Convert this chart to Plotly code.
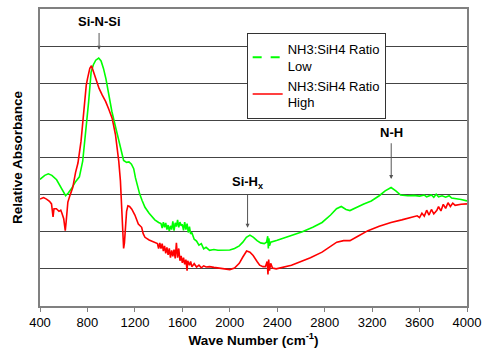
import plotly.graph_objects as go

low_wn = [400, 440, 470, 500, 540, 580, 616, 640, 663, 700, 732, 760, 790, 810, 831, 850, 870, 895, 915, 935,
          956, 980, 1006, 1035, 1064, 1085, 1105, 1130, 1150, 1171, 1190, 1205, 1220, 1240, 1260, 1285, 1320, 1368,
          1400, 1420, 1430, 1440, 1450, 1460, 1470, 1480, 1490, 1500, 1510, 1520, 1530, 1540, 1550, 1560, 1570,
          1580, 1590, 1600, 1610, 1620, 1630, 1640, 1650, 1660, 1670, 1680, 1700, 1720, 1740, 1760, 1780, 1800,
          1830, 1866, 1900, 1950, 2000, 2040, 2080, 2110, 2140, 2170, 2200, 2230, 2260, 2290, 2310, 2320, 2325,
          2330, 2335, 2345, 2370, 2400, 2500, 2612, 2700, 2778, 2850, 2900, 2940, 2980, 3013, 3060, 3130, 3193,
          3260, 3310, 3360, 3400, 3440, 3500, 3550, 3600, 3640, 3660, 3700, 3720, 3740, 3760, 3790, 3820, 3850,
          3870, 3900, 3950, 4000]
low_abs = [3.41, 3.52, 3.56, 3.52, 3.40, 3.18, 2.97, 3.05, 3.15, 3.35, 3.48, 3.9, 4.8, 5.5, 6.30, 6.50, 6.62, 6.68,
           6.60, 6.40, 6.12, 5.70, 5.24, 4.85, 4.44, 4.15, 3.92, 3.87, 3.88, 3.82, 3.70, 3.45, 3.25, 3.02, 2.85,
           2.66, 2.50, 2.32, 2.25, 2.22, 2.10, 2.26, 2.12, 2.24, 2.06, 2.18, 2.02, 2.16, 2.06, 2.28, 2.03, 2.24,
           2.14, 2.32, 2.12, 2.26, 2.16, 2.20, 2.04, 2.26, 2.06, 2.22, 1.98, 2.14, 1.94, 1.98, 1.80, 1.75, 1.64,
           1.68, 1.54, 1.58, 1.50, 1.52, 1.50, 1.50, 1.51, 1.55, 1.62, 1.72, 1.85, 1.91, 1.85, 1.76, 1.70, 1.68,
           1.72, 1.88, 1.55, 1.82, 1.62, 1.72, 1.74, 1.77, 1.88, 2.00, 2.12, 2.25, 2.45, 2.62, 2.68, 2.60, 2.57,
           2.65, 2.75, 2.83, 2.97, 3.10, 3.19, 3.10, 2.99, 2.97, 2.98, 2.96, 2.99, 2.94, 2.99, 2.93, 3.01, 2.94,
           2.97, 2.93, 2.97, 2.91, 2.90, 2.87, 2.83]

high_wn = [400, 430, 455, 480, 497, 505, 510, 518, 538, 560, 575, 585, 600, 608, 613, 620, 635, 655, 676, 700, 720,
           746, 760, 773, 790, 801, 820, 834, 850, 870, 898, 925, 953, 980, 1008, 1036, 1050, 1064, 1078, 1091,
           1100, 1105, 1112, 1119, 1130, 1141, 1155, 1174, 1200, 1229, 1257, 1270, 1285, 1320, 1368, 1390, 1400,
           1410, 1420, 1430, 1440, 1450, 1460, 1470, 1480, 1490, 1500, 1510, 1520, 1530, 1540, 1550, 1560, 1570,
           1580, 1590, 1600, 1610, 1620, 1630, 1640, 1645, 1660, 1670, 1680, 1700, 1720, 1740, 1760, 1780, 1800,
           1830, 1866, 1900, 1950, 2000, 2040, 2080, 2110, 2142, 2170, 2197, 2230, 2252, 2280, 2300, 2315, 2322,
           2328, 2335, 2345, 2360, 2391, 2450, 2520, 2584, 2680, 2778, 2850, 2902, 2960, 3013, 3080, 3165, 3260,
           3359, 3450, 3520, 3580, 3600, 3620, 3640, 3660, 3680, 3700, 3720, 3746, 3760, 3780, 3800, 3820, 3840,
           3860, 3880, 3900, 3950, 4000]
high_abs = [2.88, 2.92, 2.88, 2.82, 2.75, 2.55, 2.40, 2.62, 2.62, 2.55, 2.58, 2.50, 2.35, 2.15, 2.03, 2.25, 2.80,
            3.00, 3.19, 3.60, 3.85, 4.44, 5.0, 5.51, 5.95, 6.13, 6.40, 6.47, 6.30, 6.13, 5.86, 5.68, 5.51, 5.30,
            5.06, 4.62, 4.30, 3.90, 3.37, 2.57, 1.90, 1.55, 1.70, 2.12, 2.55, 2.70, 2.68, 2.61, 2.45, 2.21, 2.12,
            1.95, 1.85, 1.78, 1.72, 1.68, 1.55, 1.70, 1.55, 1.68, 1.48, 1.62, 1.42, 1.58, 1.38, 1.55, 1.30, 1.50,
            1.34, 1.52, 1.28, 1.70, 1.30, 1.55, 1.22, 1.35, 1.16, 1.30, 1.12, 1.25, 0.95, 1.22, 1.10, 1.20, 1.06,
            1.14, 1.05, 1.10, 1.03, 1.08, 1.05, 1.06, 1.04, 1.02, 0.99, 0.98, 1.02, 1.15, 1.32, 1.48, 1.45, 1.36,
            1.20, 1.10, 1.06, 1.06, 1.20, 0.85, 1.25, 0.95, 1.15, 1.02, 1.00, 1.04, 1.10, 1.18, 1.30, 1.45, 1.60,
            1.72, 1.76, 1.76, 1.88, 2.03, 2.15, 2.25, 2.32, 2.38, 2.43, 2.38, 2.50, 2.42, 2.58, 2.45, 2.60, 2.48,
            2.58, 2.68, 2.56, 2.74, 2.63, 2.78, 2.68, 2.77, 2.71, 2.74, 2.75]

x_ticks = [400, 800, 1200, 1600, 2000, 2400, 2800, 3200, 3600, 4000]

# annotations: (label, x, label centre y, arrow tip y)
labels = [("Si-N-Si", 898, 7.65, 6.90),
          ("Si-H<sub>x</sub>", 2150, 3.32, 2.11),
          ("N-H", 3361, 4.68, 3.42)]

FONT = "Liberation Sans, Arial, sans-serif"

fig = go.Figure()
fig.add_trace(go.Scatter(x=low_wn, y=low_abs, mode="lines", showlegend=False,
                         line=dict(color="#00ff00", width=1.6)))
fig.add_trace(go.Scatter(x=high_wn, y=high_abs, mode="lines", showlegend=False,
                         line=dict(color="#ff0000", width=1.6)))
# legend-only entries (legend shows dashed green / solid red)
fig.add_trace(go.Scatter(x=[None], y=[None], mode="lines", name="NH3:SiH4 Ratio<br>Low",
                         line=dict(color="#00ff00", width=2, dash="dash")))
fig.add_trace(go.Scatter(x=[None], y=[None], mode="lines", name="NH3:SiH4 Ratio<br>High",
                         line=dict(color="#ff0000", width=1.6)))

anns = []
for txt, x, ty, tip in labels:
    anns.append(dict(x=x, y=tip, ax=x, ay=ty, axref="x", ayref="y", xref="x", yref="y",
                     text="<b>" + txt + "</b>", showarrow=True, arrowhead=2, arrowsize=0.8,
                     arrowwidth=1, arrowcolor="#555555", borderpad=3,
                     font=dict(family=FONT, size=13, color="black")))

fig.update_layout(
    width=488, height=356,
    margin=dict(l=40, r=14, t=7, b=50),
    paper_bgcolor="white", plot_bgcolor="white",
    font=dict(family=FONT, size=13, color="black"),
    showlegend=True,
    legend=dict(x=0.484, y=0.92, xanchor="left", yanchor="top", bgcolor="white",
                bordercolor="#333333", borderwidth=1, font=dict(family=FONT, size=13),
                itemwidth=30, tracegroupgap=6),
    annotations=anns,
    xaxis=dict(range=[400, 4000], tickvals=x_ticks, ticktext=[str(v) for v in x_ticks],
               showgrid=False, zeroline=False, showline=True, linecolor="#808080", linewidth=1.5,
               mirror=True, ticks="outside", ticklen=4, tickcolor="#808080",
               ticklabeloverflow="allow",
               tickfont=dict(family=FONT, size=13),
               title=dict(text="<b>Wave Number (cm<sup>-1</sup>)</b>", standoff=6,
                          font=dict(family=FONT, size=13.5))),
    yaxis=dict(range=[0, 8], dtick=1, showticklabels=False, showgrid=True, gridcolor="#444444",
               gridwidth=1, zeroline=False, showline=True, linecolor="#808080", linewidth=2,
               mirror=True, ticks="",
               title=dict(text="<b>Relative Absorbance</b>", standoff=12,
                          font=dict(family=FONT, size=13.5))),
)

fig.write_html("out.html")
